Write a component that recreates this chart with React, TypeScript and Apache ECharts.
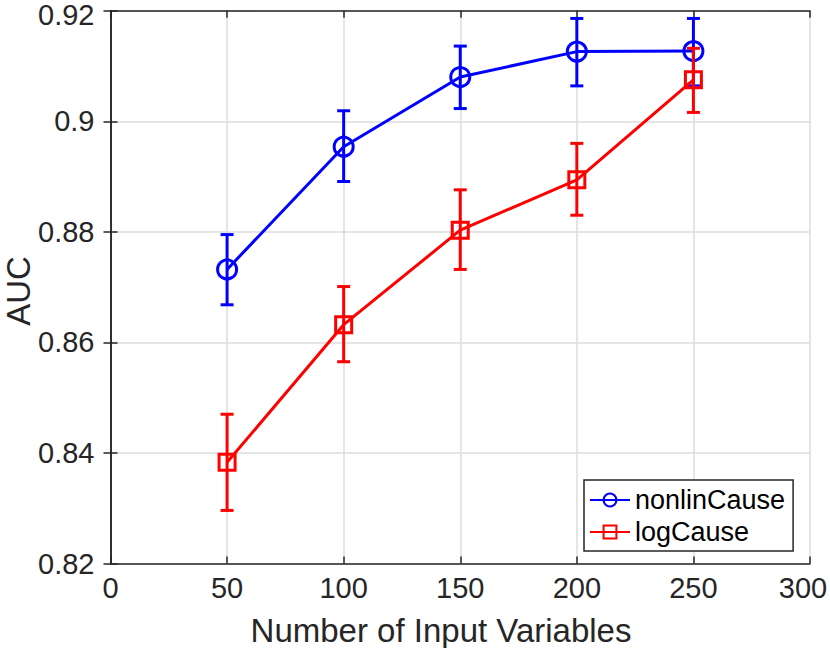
import React, { useEffect, useRef } from "react";
import * as echarts from "echarts";

const xValues = [50, 100, 150, 200, 250];
const nonlinMean = [0.8732, 0.8954, 0.908, 0.9126, 0.9127];
const nonlinLow = [0.8668, 0.8891, 0.9023, 0.9064, 0.9064];
const nonlinHigh = [0.8795, 0.9019, 0.9136, 0.9186, 0.9186];
const logMean = [0.8383, 0.8632, 0.8803, 0.8894, 0.9075];
const logLow = [0.8296, 0.8565, 0.8732, 0.883, 0.9016];
const logHigh = [0.847, 0.8701, 0.8876, 0.896, 0.9132];
const xTicks = [0, 50, 100, 150, 200, 250, 300];
const yTicks = [0.82, 0.84, 0.86, 0.88, 0.9, 0.92];
const xLabel = "Number of Input Variables";
const yLabel = "AUC";

const FONT = "Liberation Sans, Arial, Helvetica, sans-serif";
const AXIS_COLOR = "#262626";

function errorBarSeries(color: string, low: number[], high: number[]) {
  return {
    type: "custom",
    silent: true,
    data: xValues.map((x, i) => [x, low[i], high[i]]),
    renderItem: (params: any, api: any) => {
      const x = api.value(0);
      const lo = api.coord([x, api.value(1)]);
      const hi = api.coord([x, api.value(2)]);
      const cap = 6.5;
      const style = { stroke: color, lineWidth: 3, fill: "none" };
      return {
        type: "group",
        children: [
          { type: "line", shape: { x1: lo[0], y1: lo[1], x2: hi[0], y2: hi[1] }, style },
          { type: "line", shape: { x1: lo[0] - cap, y1: lo[1], x2: lo[0] + cap, y2: lo[1] }, style },
          { type: "line", shape: { x1: hi[0] - cap, y1: hi[1], x2: hi[0] + cap, y2: hi[1] }, style },
        ],
      };
    },
    encode: { x: 0, y: [1, 2] },
  };
}

export default function App() {
  const ref = useRef<HTMLDivElement>(null);
  useEffect(() => {
    document.body.style.margin = "0";
    if (!ref.current) return;
    const chart = echarts.init(ref.current, null, { renderer: "svg" });
    const axisLine = { show: true, lineStyle: { color: AXIS_COLOR, width: 1.5 } };
    const axisTick = { show: true, inside: true, length: 7, lineStyle: { color: AXIS_COLOR, width: 1.5 } };
    const tickFont = { fontFamily: FONT, fontSize: 29, color: AXIS_COLOR };
    const xMax = xTicks[xTicks.length - 1];
    const yMax = yTicks[yTicks.length - 1];
    chart.setOption({
      animation: false,
      backgroundColor: "#ffffff",
      grid: {
        left: 110.5,
        right: 20,
        top: 10.7,
        bottom: 84.5,
        containLabel: false,
        outerBoundsMode: "none",
      },
      graphic: [
        {
          type: "text",
          x: 441,
          y: 630.4,
          style: {
            text: xLabel,
            fontFamily: FONT,
            fontSize: 33,
            fill: AXIS_COLOR,
            textAlign: "center",
            textVerticalAlign: "middle",
          },
        },
        {
          type: "text",
          x: 18.5,
          y: 291,
          rotation: Math.PI / 2,
          style: {
            text: yLabel,
            fontFamily: FONT,
            fontSize: 33,
            fill: AXIS_COLOR,
            textAlign: "center",
            textVerticalAlign: "middle",
          },
        },
      ],
      legend: {
        orient: "vertical",
        left: 584,
        top: 480,
        backgroundColor: "#ffffff",
        borderColor: AXIS_COLOR,
        borderWidth: 1.5,
        borderRadius: 0,
        padding: [5, 8, 4, 5],
        itemGap: 2,
        itemWidth: 40,
        itemHeight: 16,
        itemTextGap: 3,
        textStyle: { fontFamily: FONT, fontSize: 27, color: "#000000", lineHeight: 30 },
        data: ["nonlinCause", "logCause"],
      },
      xAxis: [
        {
          type: "value",
          min: 0,
          max: xMax,
          interval: 50,
          axisLine,
          axisTick,
          axisLabel: {
            ...tickFont,
            margin: 10,
            formatter: (v: number) => (Math.abs(v - xMax) < 1e-6 ? `{m|${v}}` : `${v}`),
            rich: { m: { ...tickFont, padding: [0, 14, 0, 0] } },
          },
          splitLine: { show: true, lineStyle: { color: "#dddddd", width: 1.5 } },
        },
        {
          type: "value",
          position: "top",
          min: 0,
          max: xMax,
          interval: 50,
          axisLine,
          axisTick,
          axisLabel: { show: false },
          splitLine: { show: false },
        },
      ],
      yAxis: [
        {
          type: "value",
          min: 0.82,
          max: yMax,
          interval: 0.02,
          axisLine,
          axisTick,
          axisLabel: {
            ...tickFont,
            margin: 16,
            formatter: (v: number) => {
              const t = yTicks.find((y) => Math.abs(y - v) < 1e-6);
              if (t === undefined) return "";
              const s = String(parseFloat(t.toFixed(2)));
              return Math.abs(t - yMax) < 1e-6 ? `{m|${s}}` : s;
            },
            rich: { m: { ...tickFont, lineHeight: 28, padding: [9, 0, 0, 0] } },
          },
          splitLine: { show: true, lineStyle: { color: "#dddddd", width: 1.5 } },
        },
        {
          type: "value",
          position: "right",
          min: 0.82,
          max: yMax,
          interval: 0.02,
          axisLine,
          axisTick,
          axisLabel: { show: false },
          splitLine: { show: false },
        },
      ],
      series: [
        { ...errorBarSeries("#0000ff", nonlinLow, nonlinHigh), name: "nonlinCauseErr", z: 2 },
        {
          name: "nonlinCause",
          type: "line",
          z: 3,
          data: xValues.map((x, i) => [x, nonlinMean[i]]),
          symbol: "circle",
          symbolSize: 19,
          showSymbol: true,
          lineStyle: { color: "#0000ff", width: 3 },
          itemStyle: { color: "rgba(0,0,0,0)", borderColor: "#0000ff", borderWidth: 3 },
        },
        { ...errorBarSeries("#ff0000", logLow, logHigh), name: "logCauseErr", z: 4 },
        {
          name: "logCause",
          type: "line",
          z: 5,
          data: xValues.map((x, i) => [x, logMean[i]]),
          symbol: "rect",
          symbolSize: 16,
          showSymbol: true,
          lineStyle: { color: "#ff0000", width: 3 },
          itemStyle: { color: "rgba(0,0,0,0)", borderColor: "#ff0000", borderWidth: 3 },
        },
      ],
    });
    return () => chart.dispose();
  }, []);
  return <div ref={ref} style={{ width: 830, height: 648, overflow: "hidden" }} />;
}
